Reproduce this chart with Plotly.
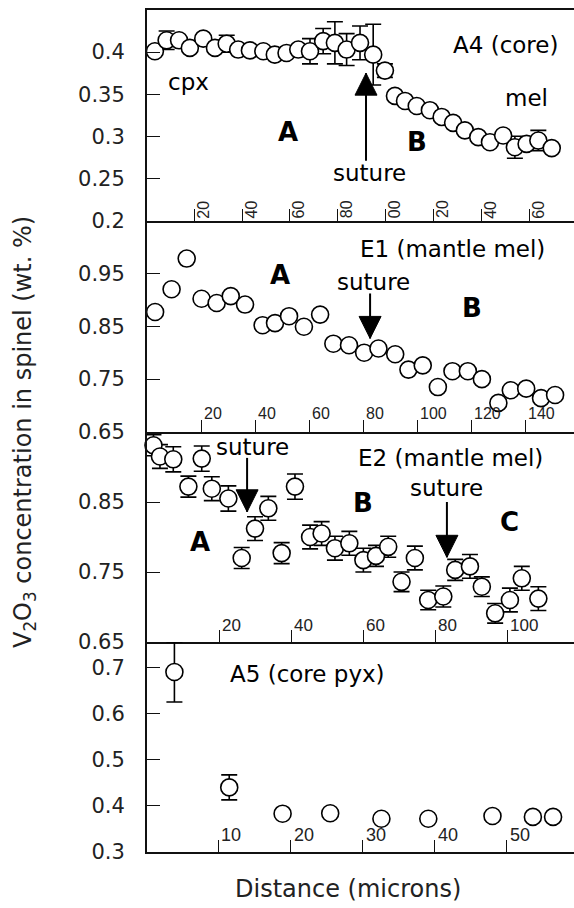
import plotly.graph_objects as go

# ---------------- data ----------------
# Panel 1: A4 (core)
a4_x = [3.6, 8.5, 13.7, 18.2, 23.8, 28.7, 33.6, 38.4, 43.3, 48.9, 53.7, 58.6, 63.5, 68.4,
        73.9, 78.8, 83.7, 89.3, 94.8, 99.7, 103.9, 108.1, 113.0, 118.5, 123.4, 128.2,
        133.1, 138.7, 143.6, 149.1, 154.0, 158.9, 163.8, 169.4]
a4_y = [0.401, 0.414, 0.414, 0.405, 0.416, 0.405, 0.410, 0.403, 0.402, 0.401, 0.397, 0.399,
        0.403, 0.401, 0.413, 0.411, 0.403, 0.411, 0.397, 0.378, 0.348, 0.342, 0.336, 0.331,
        0.323, 0.316, 0.307, 0.299, 0.293, 0.301, 0.287, 0.291, 0.295, 0.286]
a4_err = [None, 0.011, None, None, None, None, 0.010, None, None, None, None, None,
          None, 0.015, 0.015, 0.025, 0.019, 0.020, 0.036, 0.008, None, None, None, None,
          None, None, None, None, None, None, 0.013, None, 0.012, None]

# Panel 2: E1 (mantle mel)
e1_x = [3.0, 9.1, 14.7, 20.2, 25.8, 31.0, 36.3, 42.8, 47.4, 52.6, 58.1, 64.1, 69.0, 74.8,
        80.4, 85.7, 91.9, 96.8, 102.1, 107.7, 113.1, 118.8, 124.0, 130.1, 134.7, 140.4,
        145.9, 151.1]
e1_y = [0.877, 0.920, 0.978, 0.902, 0.894, 0.907, 0.891, 0.852, 0.856, 0.869, 0.849, 0.872,
        0.817, 0.814, 0.800, 0.808, 0.797, 0.768, 0.776, 0.735, 0.765, 0.765, 0.750, 0.705,
        0.729, 0.732, 0.714, 0.720]

# Panel 3: E2 (mantle mel)
e2_x = [1.8, 3.6, 7.3, 11.5, 15.2, 18.0, 22.6, 26.3, 30.0, 33.7, 37.4, 41.1, 45.3, 48.5,
        52.2, 56.2, 60.1, 63.6, 67.0, 70.7, 74.4, 78.1, 82.3, 85.6, 89.7, 93.0, 96.7,
        100.8, 104.1, 108.7]
e2_y = [0.931, 0.915, 0.911, 0.872, 0.912, 0.869, 0.855, 0.770, 0.812, 0.841, 0.777, 0.872,
        0.800, 0.805, 0.784, 0.791, 0.767, 0.773, 0.786, 0.736, 0.770, 0.710, 0.715, 0.753,
        0.758, 0.729, 0.691, 0.710, 0.741, 0.712]
e2_err = [0.015, 0.017, 0.018, 0.015, 0.018, 0.017, 0.018, 0.015, 0.017, 0.017, 0.015, 0.018,
          0.017, 0.017, 0.017, 0.017, 0.017, 0.015, 0.015, 0.014, 0.017, 0.014, 0.015, 0.015,
          0.017, 0.014, 0.014, 0.017, 0.017, 0.017]

# Panel 4: A5 (core pyx)
a5_x = [3.9, 11.5, 18.9, 25.5, 32.6, 39.1, 48.0, 53.6, 56.4]
a5_y = [0.690, 0.440, 0.383, 0.384, 0.372, 0.372, 0.378, 0.376, 0.376]
a5_err = [0.065, 0.027, None, None, None, None, None, None, None]

# tick values / labels
p1_xticks = [20, 40, 60, 80, 100, 120, 140, 160]
p1_xticktext = ["20", "40", "60", "80", "00", "20", "40", "60"]   # leading digit cut off in original
p2_xticks = [20, 40, 60, 80, 100, 120, 140]
p2_xticktext = ["20", "40", "60", "80", "100", "120", "140"]
p3_xticks = [20, 40, 60, 80, 100]
p3_xticktext = ["20", "40", "60", "80", "100"]
p4_xticks = [10, 20, 30, 40, 50]
p4_xticktext = ["10", "20", "30", "40", "50"]
p1_yticks = [0.2, 0.25, 0.3, 0.35, 0.4]
p1_yticktext = ["0.2", "0.25", "0.3", "0.35", "0.4"]
p2_yticks = [0.65, 0.75, 0.85, 0.95]
p2_yticktext = ["0.65", "0.75", "0.85", "0.95"]
p3_yticks = [0.65, 0.75, 0.85]
p3_yticktext = ["0.65", "0.75", "0.85"]
p4_yticks = [0.3, 0.4, 0.5, 0.6, 0.7]
p4_yticktext = ["0.3", "0.4", "0.5", "0.6", "0.7"]

# ---------------- figure ----------------
W, H = 574, 908
ML, MR, MT, MB = 147, 0, 10, 56
PH = H - MT - MB
bounds = [10, 220.5, 432, 642, 852]  # pixel y of panel borders


def dom(top, bottom):
    return [(H - MB - bottom) / PH, (H - MB - top) / PH]


marker = dict(symbol="circle", size=17, color="white", line=dict(color="black", width=1.6))


def err(arr):
    return dict(type="data", array=arr, visible=True, color="black", thickness=1.6, width=8)


fig = go.Figure()
fig.add_trace(go.Scatter(x=a4_x, y=a4_y, mode="markers", marker=marker, error_y=err(a4_err),
                         xaxis="x", yaxis="y", cliponaxis=False, showlegend=False))
fig.add_trace(go.Scatter(x=e1_x, y=e1_y, mode="markers", marker=marker,
                         xaxis="x2", yaxis="y2", cliponaxis=False, showlegend=False))
fig.add_trace(go.Scatter(x=e2_x, y=e2_y, mode="markers", marker=marker, error_y=err(e2_err),
                         xaxis="x3", yaxis="y3", cliponaxis=False, showlegend=False))
fig.add_trace(go.Scatter(x=a5_x, y=a5_y, mode="markers", marker=marker, error_y=err(a5_err),
                         xaxis="x4", yaxis="y4", cliponaxis=False, showlegend=False))

LINE = dict(showline=True, linecolor="#111", linewidth=2, showgrid=False, zeroline=False)


def xax(rng, ticks, anchor, mirror=False):
    d = dict(range=rng, tickvals=ticks, ticks="inside", ticklen=12,
             tickwidth=1.3, tickcolor="#111", showticklabels=False,
             anchor=anchor, domain=[0, 1], **LINE)
    if mirror:
        d["mirror"] = True
    return d


def yax(rng, ticks, text, domain, anchor):
    return dict(range=rng, tickvals=ticks, ticktext=text, ticks="inside", ticklen=13,
                tickwidth=1.3, tickcolor="#111", ticklabelstandoff=16,
                tickfont=dict(family="DejaVu Sans", size=21, color="#222"),
                anchor=anchor, domain=domain, **LINE)


p1_xr, p2_xr, p3_xr, p4_xr = [0.3, 178.7], [0, 158.1], [0, 118.6], [0.1, 59.3]
p1_yr, p2_yr, p3_yr, p4_yr = [0.2, 0.45], [0.65, 1.05], [0.65, 0.95], [0.3, 0.755]

fig.update_layout(
    width=W, height=H, margin=dict(l=ML, r=MR, t=MT, b=MB),
    paper_bgcolor="white", plot_bgcolor="white",
    xaxis=xax(p1_xr, p1_xticks, "y", mirror=True),
    yaxis=yax(p1_yr, p1_yticks, p1_yticktext, dom(bounds[0], bounds[1]), "x"),
    xaxis2=xax(p2_xr, p2_xticks, "y2"),
    yaxis2=yax(p2_yr, p2_yticks, p2_yticktext, dom(bounds[1], bounds[2]), "x2"),
    xaxis3=xax(p3_xr, p3_xticks, "y3"),
    yaxis3=yax(p3_yr, p3_yticks, p3_yticktext, dom(bounds[2], bounds[3]), "x3"),
    xaxis4=xax(p4_xr, p4_xticks, "y4"),
    yaxis4=yax(p4_yr, p4_yticks, p4_yticktext, dom(bounds[3], bounds[4]), "x4"),
)

# x tick labels drawn inside the panels (as in the original figure)
for v, t in zip(p1_xticks, p1_xticktext):
    fig.add_annotation(xref="x", yref="y", x=v, y=p1_yr[0], text=t, showarrow=False,
                       textangle=-90, xanchor="center", yanchor="middle", xshift=9, yshift=11,
                       font=dict(family="Liberation Sans", size=16, color="#222"))
for xr, yr, ticks, texts, ymin, size, ysh in [
        ("x2", "y2", p2_xticks, p2_xticktext, p2_yr[0], 16, 19),
        ("x3", "y3", p3_xticks, p3_xticktext, p3_yr[0], 17, 17),
        ("x4", "y4", p4_xticks, p4_xticktext, p4_yr[0], 18, 17)]:
    for v, t in zip(ticks, texts):
        fig.add_annotation(xref=xr, yref=yr, x=v, y=ymin, text=t, showarrow=False,
                           xanchor="left", yanchor="middle", xshift=1, yshift=ysh,
                           font=dict(family="Liberation Sans", size=size, color="#222"))

F = dict(family="DejaVu Sans", size=23, color="black")
FB = dict(family="DejaVu Sans", size=26, color="black", weight="bold")

labels = [
    ("x", "y", 150, 0.408, "A4 (core)", F),
    ("x", "y", 17.5, 0.364, "cpx", F),
    ("x", "y", 158.8, 0.345, "mel", F),
    ("x", "y", 59.2, 0.305, "A", FB),
    ("x", "y", 112.9, 0.293, "B", FB),
    ("x", "y", 93.3, 0.256, "suture", F),
    ("x2", "y2", 113, 0.997, "E1 (mantle mel)", F),
    ("x2", "y2", 49.3, 0.946, "A", FB),
    ("x2", "y2", 83.7, 0.933, "suture", F),
    ("x2", "y2", 120.4, 0.884, "B", FB),
    ("x3", "y3", 29.2, 0.929, "suture", F),
    ("x3", "y3", 84.2, 0.913, "E2 (mantle mel)", F),
    ("x3", "y3", 83.1, 0.870, "suture", F),
    ("x3", "y3", 60.0, 0.849, "B", FB),
    ("x3", "y3", 100.8, 0.821, "C", FB),
    ("x3", "y3", 14.7, 0.793, "A", FB),
    ("x4", "y4", 22.3, 0.685, "A5 (core pyx)", F),
]
for xr, yr, x, y, t, f in labels:
    fig.add_annotation(xref=xr, yref=yr, x=x, y=y, text=t, showarrow=False, font=f,
                       xanchor="center", yanchor="middle")

# suture arrows: shaft (data coords) + triangular head (pixel-sized, anchored at the tip)
arrows = [
    ("x", "y", 91.8, 0.375, 0.271, "up"),
    ("x2", "y2", 82.6, 0.827, 0.912, "down"),
    ("x3", "y3", 27.8, 0.836, 0.913, "down"),
    ("x3", "y3", 83.3, 0.771, 0.850, "down"),
]
HEAD = 22
for xr, yr, x, ytip, ytail, d in arrows:
    fig.add_shape(type="line", xref=xr, yref=yr, x0=x, x1=x, y0=ytip, y1=ytail,
                  line=dict(color="black", width=2))
    b = HEAD if d == "down" else -HEAD
    fig.add_shape(type="path", xref=xr, yref=yr, xsizemode="pixel", ysizemode="pixel",
                  xanchor=x, yanchor=ytip,
                  path=f"M {-HEAD/2},{b} L {HEAD/2},{b} L 0,0 Z",
                  fillcolor="black", line=dict(color="black", width=1))

fig.add_annotation(xref="paper", yref="paper", x=(24 - ML) / (W - ML - MR), y=(H - MB - 432) / PH,
                   text="V<sub>2</sub>O<sub>3</sub> concentration in spinel (wt. %)",
                   textangle=-90, showarrow=False, xanchor="center", yanchor="middle",
                   font=dict(family="DejaVu Sans", size=24, color="#222"))
fig.add_annotation(xref="paper", yref="paper", x=(348 - ML) / (W - ML - MR), y=(H - MB - 889) / PH,
                   text="Distance (microns)", showarrow=False, xanchor="center", yanchor="middle",
                   font=dict(family="DejaVu Sans", size=24, color="#222"))

fig.write_html("out.html")
